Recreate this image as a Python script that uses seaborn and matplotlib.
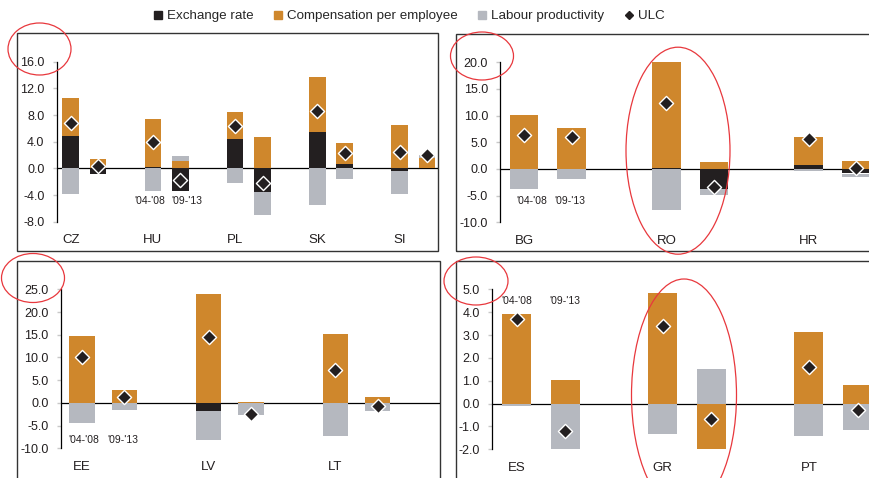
import matplotlib
matplotlib.use("Agg")
import matplotlib.pyplot as plt
from matplotlib.lines import Line2D
from matplotlib.patches import Rectangle, Ellipse
import numpy as np
import seaborn as sns

# ---- data ----
periods = ["'04-'08", "'09-'13"]

# panel 1: CZ HU PL SK SI  (two periods per country)
countries_1 = ["CZ", "HU", "PL", "SK", "SI"]
exch_1 = [4.85, -0.85, 0.2, -3.4, 4.4, -3.55, 5.45, 0.65, -0.4, 0.0]
comp_1 = [5.7, 1.4, 7.2, 1.1, 4.05, 4.7, 8.25, 3.15, 6.5, 1.6]
lab_1 = [-3.85, 0.0, -3.4, 0.75, -2.2, -3.45, -5.5, -1.6, -3.45, 0.4]
ulc_1 = [6.85, 0.4, 3.9, -1.75, 6.35, -2.25, 8.6, 2.3, 2.45, 2.0]

# panel 2: BG RO HR
countries_2 = ["BG", "RO", "HR"]
exch_2 = [0.0, 0.0, 0.25, -3.75, 0.75, -0.85]
comp_2 = [10.1, 7.7, 19.8, 1.3, 5.25, 1.5]
lab_2 = [-3.75, -1.9, -7.7, -1.05, -0.35, -0.6]
ulc_2 = [6.4, 5.95, 12.3, -3.3, 5.7, 0.2]

# panel 3: EE LV LT
countries_3 = ["EE", "LV", "LT"]
exch_3 = [0.0, 0.0, -1.7, 0.0, 0.0, 0.0]
comp_3 = [14.75, 2.85, 24.0, 0.25, 15.2, 1.3]
lab_3 = [-4.35, -1.55, -6.45, -2.65, -7.25, -1.7]
ulc_3 = [10.1, 1.4, 14.4, -2.35, 7.25, -0.6]

# panel 4: ES GR PT
countries_4 = ["ES", "GR", "PT"]
exch_4 = [0.0, 0.0, 0.0, 0.0, 0.0, 0.0]
comp_4 = [3.94, 1.05, 4.86, -2.04, 3.15, 0.83]
lab_4 = [-0.12, -2.04, -1.31, 1.53, -1.43, -1.14]
ulc_4 = [3.72, -1.2, 3.41, -0.69, 1.6, -0.29]

BLACK = "#231f20"
ORANGE = "#cf872c"
GREY = "#b5b8bf"
RED = "#e8383d"
TXT = "#231f20"

W, H = 869, 478
sns.set_style("white")
plt.rcParams["font.family"] = ["Liberation Sans", "DejaVu Sans"]

fig = plt.figure(figsize=(W / 100, H / 100), dpi=100)


def px_axes(left, right, top, bottom):
    # pixel box -> figure fraction
    return fig.add_axes([left / W, 1 - bottom / H, (right - left) / W, (bottom - top) / H])


def panel(ax, countries, exch, comp, lab, ulc, ylo, yhi, step, nslots, per_x, per_y):
    xpos = np.array([3 * k + p + 0.5 for k in range(len(countries)) for p in range(2)])
    pos_bot = np.zeros(len(xpos))
    neg_bot = np.zeros(len(xpos))
    for vals, col in [(exch, BLACK), (comp, ORANGE), (lab, GREY)]:
        v = np.array(vals, dtype=float)
        bottom = np.where(v >= 0, pos_bot, neg_bot)
        sns.barplot(x=xpos, y=v, bottom=bottom, native_scale=True, color=col,
                    saturation=1, width=0.6, errorbar=None, linewidth=0,
                    zorder=2, ax=ax)
        pos_bot += np.clip(v, 0, None)
        neg_bot += np.clip(v, None, 0)
    sns.scatterplot(x=xpos, y=ulc, marker="D", s=52, color=BLACK,
                    edgecolor="white", linewidth=1, zorder=4, ax=ax, legend=False)
    ax.axhline(0, color="black", lw=0.9, zorder=1)

    ticks = np.arange(ylo, yhi + step / 2, step)
    ax.set_xlim(0, nslots)
    ax.set_ylim(ylo, yhi)
    ax.set_yticks(ticks)
    ax.set_yticklabels([f"{t:.1f}" for t in ticks])
    ax.set_xticks([3 * k + 0.5 for k in range(len(countries))], countries)
    ax.tick_params(axis="y", length=3, width=1, color="#c8c8c8", pad=6,
                   labelsize=9, labelcolor=TXT, left=True)
    ax.tick_params(axis="x", length=0, pad=9, labelsize=9.5, labelcolor=TXT)
    for s in ["top", "right", "bottom"]:
        ax.spines[s].set_visible(False)
    ax.spines["left"].set_color("black")
    ax.spines["left"].set_linewidth(0.9)
    ax.set_xlabel("")
    ax.set_ylabel("")
    ax.patch.set_alpha(0)
    for xx, lbl in zip(per_x, periods):
        ax.text(xx, per_y, lbl, ha="center", va="center", fontsize=7.5, color=TXT)


# panel boxes
for (x0, y0, x1, y1) in [(17, 33, 438, 251), (456, 34, 900, 251),
                         (17, 261, 440, 500), (456, 261, 900, 500)]:
    fig.add_artist(Rectangle((x0 / W, 1 - y1 / H), (x1 - x0) / W, (y1 - y0) / H,
                             transform=fig.transFigure, fill=False,
                             ec="#333333", lw=1.0, zorder=0))

ax1 = px_axes(57, 438, 61.7, 221.7)
panel(ax1, countries_1, exch_1, comp_1, lab_1, ulc_1, -8, 16, 4,
      (438 - 57) / 27.4, (3.39, 4.73), -4.9)

ax2 = px_axes(500.5, 870, 62.3, 222.3)
panel(ax2, countries_2, exch_2, comp_2, lab_2, ulc_2, -10, 20, 5,
      (870 - 500.5) / 47.4, (0.66, 1.47), -6.1)

ax3 = px_axes(61, 440, 289.3, 448.3)
panel(ax3, countries_3, exch_3, comp_3, lab_3, ulc_3, -10, 25, 5,
      (440 - 61) / 42.2, (0.55, 1.47), -8.2)

ax4 = px_axes(492.3, 870, 289.3, 449.3)
panel(ax4, countries_4, exch_4, comp_4, lab_4, ulc_4, -2, 5, 1,
      (870 - 492.3) / 48.7, (0.51, 1.49), 4.5)

# red highlight ellipses
for (cx, cy, ew, eh) in [(39.5, 49, 63, 52), (482, 56, 63, 48), (678, 150.7, 104, 207),
                         (33, 278, 63, 49), (476, 281, 64, 48), (684, 395, 105, 232)]:
    fig.add_artist(Ellipse((cx / W, 1 - cy / H), ew / W, eh / H,
                           transform=fig.transFigure, fill=False,
                           ec=RED, lw=0.9, zorder=10))

# legend
handles = [
    Line2D([], [], marker="s", ls="none", color=BLACK, markersize=5.5),
    Line2D([], [], marker="s", ls="none", color=ORANGE, markersize=5.5),
    Line2D([], [], marker="s", ls="none", color=GREY, markersize=5.5),
    Line2D([], [], marker="D", ls="none", color=BLACK, markersize=4.5),
]
labels = ["Exchange rate", "Compensation per employee", "Labour productivity", "ULC"]
fig.legend(handles, labels, loc="center", bbox_to_anchor=(409 / W, 1 - 16 / H),
           ncol=4, frameon=False, handlelength=0.7, handletextpad=0.35,
           columnspacing=1.45, borderaxespad=0,
           prop={"family": "Liberation Sans", "size": 9.6})

fig.savefig("out.png", dpi=100)
